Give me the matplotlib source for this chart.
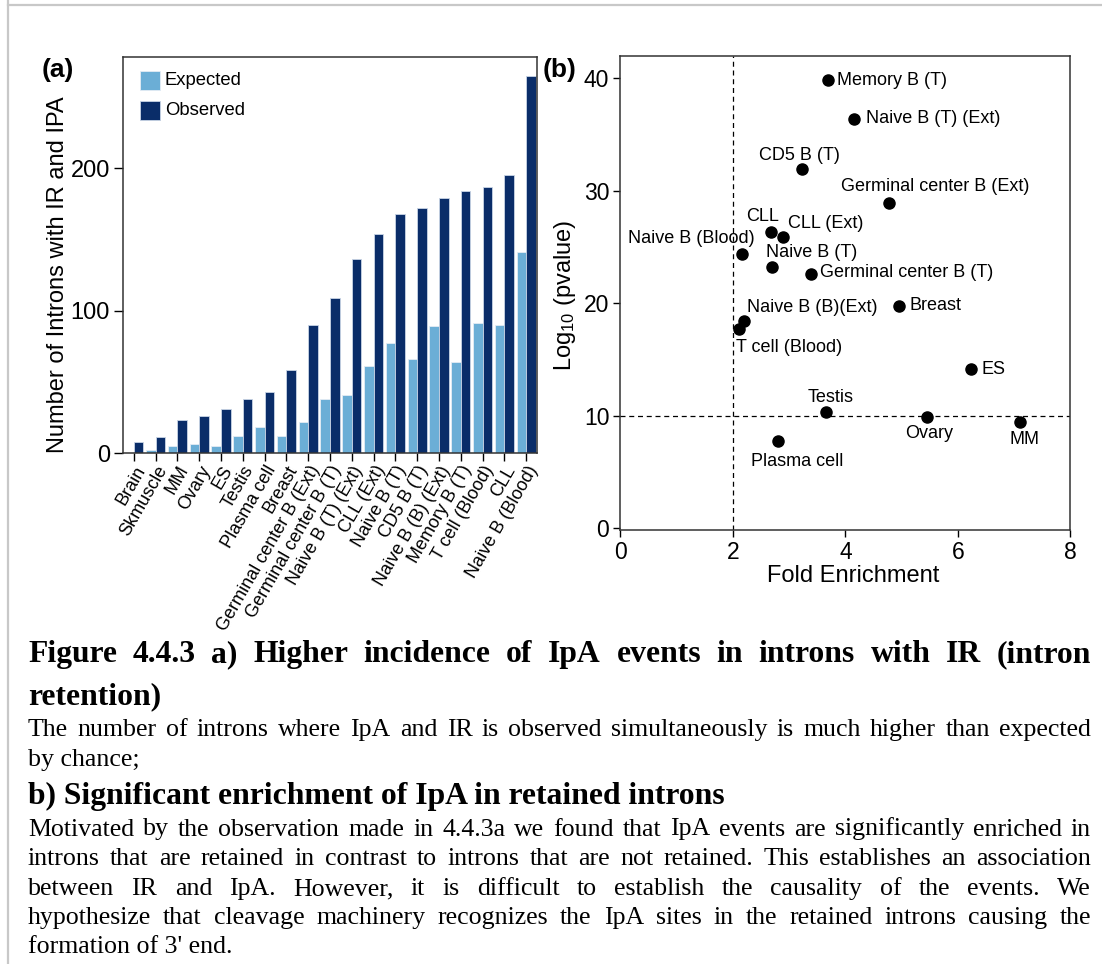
import numpy as np
import matplotlib
matplotlib.use("Agg")
import matplotlib.pyplot as plt
from matplotlib.patches import Rectangle

plt.rcParams['font.family'] = ['Liberation Sans', 'DejaVu Sans']
plt.rcParams['mathtext.default'] = 'regular'

# (a) introns with both IR and IpA, per sample
samples = ['Brain', 'Skmuscle', 'MM', 'Ovary', 'ES', 'Testis', 'Plasma cell',
           'Breast', 'Germinal center B (Ext)', 'Germinal center B (T)',
           'Naive B (T) (Ext)', 'CLL (Ext)', 'Naive B (T)', 'CD5 B (T)',
           'Naive B (B) (Ext)', 'Memory B (T)', 'T cell (Blood)', 'CLL',
           'Naive B (Blood)']
expected = [0, 2, 5, 6, 5, 12, 18, 12, 22, 38, 41, 61, 77, 66, 89, 64, 91, 90, 141]
observed = [8, 11, 23, 26, 31, 38, 43, 58, 90, 109, 136, 154, 168, 172, 179, 184, 187, 195, 265]

# (b) fold enrichment vs -log10 p
points = ['Memory B (T)', 'Naive B (T) (Ext)', 'CD5 B (T)', 'Germinal center B (Ext)',
          'CLL', 'CLL (Ext)', 'Naive B (Blood)', 'Naive B (T)', 'Germinal center B (T)',
          'Breast', 'Naive B (B)(Ext)', 'T cell (Blood)', 'ES', 'Testis', 'Ovary',
          'MM', 'Plasma cell']
fold = [3.69, 4.16, 3.22, 4.78, 2.68, 2.89, 2.17, 2.70, 3.38, 4.96, 2.20, 2.10,
        6.24, 3.66, 5.45, 7.11, 2.81]
logp = [39.8, 36.4, 31.9, 28.9, 26.3, 25.9, 24.4, 23.2, 22.6, 19.8, 18.4, 17.7,
        14.2, 10.3, 9.9, 9.45, 7.8]

# label placement (alignment, dx, dy in pixels)
label_pos = {
    'Memory B (T)': ('left', 9, 0),
    'Naive B (T) (Ext)': ('left', 12, 0),
    'CD5 B (T)': ('center', -2, 14),
    'Germinal center B (Ext)': ('center', 46, 17),
    'CLL': ('center', -9, 16),
    'CLL (Ext)': ('center', 43, 13),
    'Naive B (Blood)': ('center', -51, 15),
    'Naive B (T)': ('center', 39, 15),
    'Germinal center B (T)': ('left', 9, 2),
    'Breast': ('left', 10, 0),
    'Naive B (B)(Ext)': ('center', 68, 14),
    'T cell (Blood)': ('center', 51, -18),
    'ES': ('left', 10, -1),
    'Testis': ('center', 4, 15),
    'Ovary': ('center', 2, -17),
    'MM': ('center', 4, -18),
    'Plasma cell': ('center', 19, -21),
}

W, H = 1102, 964
fig = plt.figure(figsize=(W / 100, H / 100), dpi=100)


def rect(left, top, right, bottom):
    return [left / W, 1 - bottom / H, (right - left) / W, (bottom - top) / H]


# page frame
fig.add_artist(plt.Line2D([7.5 / W, 7.5 / W], [0, 1], color='#c8c8c8', lw=1.6))
fig.add_artist(plt.Line2D([7.5 / W, 1], [1 - 5 / H, 1 - 5 / H], color='#c8c8c8', lw=1.6))

light = '#6baed6'
dark = '#0a2d69'

# ---- panel a ----
ax = fig.add_axes(rect(123, 57, 537, 453))
x = np.arange(len(samples))
w = 0.44
ax.bar(x - w / 2, expected, w, color=light, edgecolor='#e4ecf4', linewidth=0.6)
ax.bar(x + w / 2, observed, w, color=dark, edgecolor='#c9d5e6', linewidth=0.6)
ax.set_xlim(-0.5, len(samples) - 0.5)
ax.set_ylim(0, 278)
ax.set_yticks([0, 100, 200])
ax.set_xticks(x)
ax.set_xticklabels(samples, rotation=60, ha='right', rotation_mode='anchor', fontsize=13)
ax.tick_params(axis='y', labelsize=17, length=6.5, width=1, pad=3)
ax.tick_params(axis='x', length=6, width=1, pad=1)
for s in ax.spines.values():
    s.set_linewidth(1.1)
    s.set_color('#333333')
ax.set_ylabel('Number of Introns with IR and IPA', fontsize=17, va='center')
ax.yaxis.set_label_coords(-0.157, 0.45)

# legend keys
for (top, colour, edge, name) in [(71, light, '#e4ecf4', 'Expected'),
                                  (101, dark, '#c9d5e6', 'Observed')]:
    fig.add_artist(Rectangle((140 / W, 1 - (top + 19) / H), 20 / W, 19 / H,
                             transform=fig.transFigure, facecolor=colour,
                             edgecolor=edge, lw=0.6))
    fig.text(165 / W, 1 - (top + 9.5) / H, name, fontsize=13.3, va='center')

# ---- panel b ----
bx = fig.add_axes(rect(620.4, 55.7, 1070.4, 530))
bx.axvline(2, color='black', lw=0.9, ls=(0, (4, 3)), zorder=1)
bx.axhline(10, color='black', lw=0.9, ls=(0, (4, 3)), zorder=1)
bx.scatter(fold, logp, s=64, color='black', zorder=3)
for name, fx, ly in zip(points, fold, logp):
    ha, dx, dy = label_pos[name]
    bx.annotate(name, (fx, ly), xytext=(dx, dy), textcoords='offset pixels',
                ha=ha, va='center', fontsize=13)
bx.set_xlim(0, 8)
bx.set_ylim(-0.15, 42)
bx.set_xticks([0, 2, 4, 6, 8])
bx.set_yticks([0, 10, 20, 30, 40])
bx.tick_params(labelsize=16.5, length=5, width=1, pad=3)
for s in bx.spines.values():
    s.set_linewidth(1.1)
    s.set_color('#333333')
bx.set_xlabel('Fold Enrichment', fontsize=17, va='center')
bx.xaxis.set_label_coords(0.517, -0.097)
bx.set_ylabel(r'Log$_{10}$ (pvalue)', fontsize=17, va='center')
bx.yaxis.set_label_coords(-0.123, 0.494)

fig.text(42 / W, 1 - 70 / H, '(a)', fontsize=19, fontweight='bold', va='center')
fig.text(543 / W, 1 - 70 / H, '(b)', fontsize=19, fontweight='bold', va='center')

# ---- caption ----
serif = 'Liberation Serif'
renderer = fig.canvas.get_renderer()
x0, x1 = 28, 1091


def caption_line(y, text, size, bold=False, justify=False):
    weight = 'bold' if bold else 'normal'
    if not justify:
        fig.text(x0 / W, 1 - y / H, text, fontsize=size, fontweight=weight,
                 family=serif, va='baseline')
        return
    words = text.split()
    arts = [fig.text(0, 1 - y / H, wd, fontsize=size, fontweight=weight,
                     family=serif, va='baseline') for wd in words]
    widths = [a.get_window_extent(renderer).width for a in arts]
    gap = (x1 - x0 - sum(widths)) / (len(words) - 1)
    pos = x0
    for a, wd in zip(arts, widths):
        a.set_x(pos / W)
        pos += wd + gap


head = 22.8
body = 18.6
caption_line(662, 'Figure 4.4.3 a) Higher incidence of IpA events in introns with IR (intron',
             head, bold=True, justify=True)
caption_line(704, 'retention)', head, bold=True)
caption_line(736, 'The number of introns where IpA and IR is observed simultaneously is much higher than expected',
             body, justify=True)
caption_line(766, 'by chance;', body)
caption_line(804, 'b) Significant enrichment of IpA in retained introns', head, bold=True)
caption_line(835.5, 'Motivated by the observation made in 4.4.3a we found that IpA events are significantly enriched in',
             body, justify=True)
caption_line(865, 'introns that are retained in contrast to introns that are not retained. This establishes an association',
             body, justify=True)
caption_line(895, 'between IR and IpA. However, it is difficult to establish the causality of the events. We',
             body, justify=True)
caption_line(924, 'hypothesize that cleavage machinery recognizes the IpA sites in the retained introns causing the',
             body, justify=True)
caption_line(953, "formation of 3' end.", body)

fig.savefig('out.png', dpi=100)
